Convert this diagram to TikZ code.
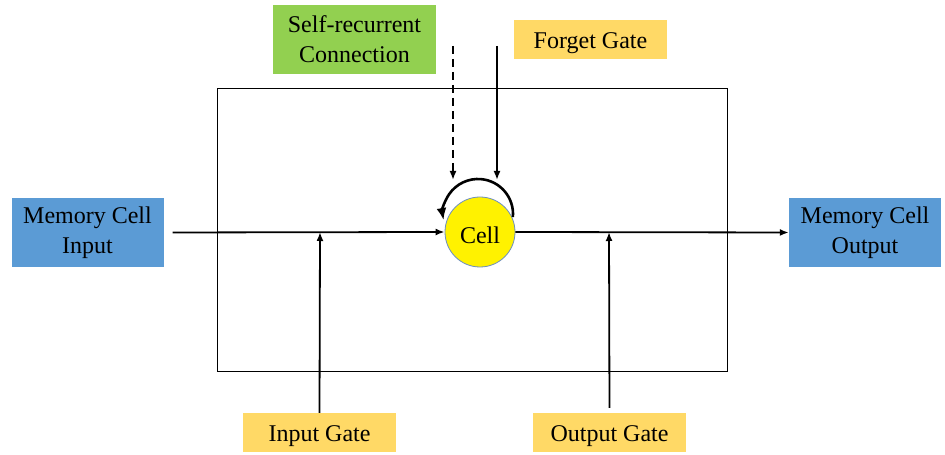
\documentclass[tikz,border=0pt]{standalone}
\usepackage{fontspec}
\setmainfont{Liberation Serif}
\usetikzlibrary{arrows.meta}
\definecolor{ioblue}{HTML}{5B9BD5}
\definecolor{selfgreen}{HTML}{92D050}
\definecolor{gateyellow}{HTML}{FFD966}
\definecolor{cellrim}{HTML}{6C8EBF}
\tikzset{
  lbl/.style={font=\fontsize{24}{30}\selectfont, align=center, inner sep=0pt,
    execute at begin node={\rule{0pt}{23pt}}},
  iobox/.style={lbl, fill=ioblue, minimum width=152pt, minimum height=69pt},
  selfbox/.style={lbl, fill=selfgreen, minimum width=163pt, minimum height=69pt},
  gatebox/.style={lbl, fill=gateyellow, minimum width=153pt, minimum height=39pt},
  cellnode/.style={lbl, circle, fill=yellow, draw=cellrim, line width=0.8pt, minimum size=70pt},
  arr/.style={line width=1.8pt, -{Latex[length=9pt,width=7pt]}},
  dasharr/.style={arr, dash pattern=on 8pt off 5pt},
  selfloop/.style={line width=2.6pt, -{Latex[length=12pt,width=10pt]}}
}
\begin{document}
\begin{tikzpicture}[x=1pt,y=1pt]
  \useasboundingbox (0,0) rectangle (945,455);
  % enclosing block
  \draw[line width=1pt] (217,83) rectangle (727,366);

  % labelled boxes
  \node[iobox] (in)  at (87.5,222.5) {Memory Cell\\Input};
  \node[iobox] (out) at (865,222.5) {Memory Cell\\Output};
  \node[selfbox] (self) at (354.5,415.5) {Self-recurrent\\Connection};
  \node[gatebox] (fg) at (590.5,415.5) {Forget Gate};
  \node[gatebox] (ig) at (319.5,22.5) {Input Gate};
  \node[gatebox] (og) at (609.5,22.5) {Output Gate};
  \node[cellnode] (cell) at (480,223) {Cell};

  % points where the gates meet the data path
  \coordinate (ijoin) at (320,223);
  \coordinate (ojoin) at (609,223);
  \coordinate (ftop) at (497,409);
  \coordinate (fend) at (497,275);
  \coordinate (stop) at (453,409);
  \coordinate (send) at (453,275);
  \coordinate (loopc) at (478,241);

  % data path
  \draw[arr, shorten <=9pt] (in.east) -- (cell.west);
  \draw[arr] (cell.east) -- (out.west);

  % gates
  \draw[arr] (ig.north) -- (ijoin);
  \draw[arr, shorten <=5pt] (og.north) -- (ojoin);
  \draw[arr] (ftop) -- (fend);
  \draw[dasharr] (stop) -- (send);

  % self-recurrent loop over the cell
  \draw[selfloop] ([shift={(-5:35)}]loopc) arc[start angle=-5, end angle=190, radius=35];
\end{tikzpicture}
\end{document}
